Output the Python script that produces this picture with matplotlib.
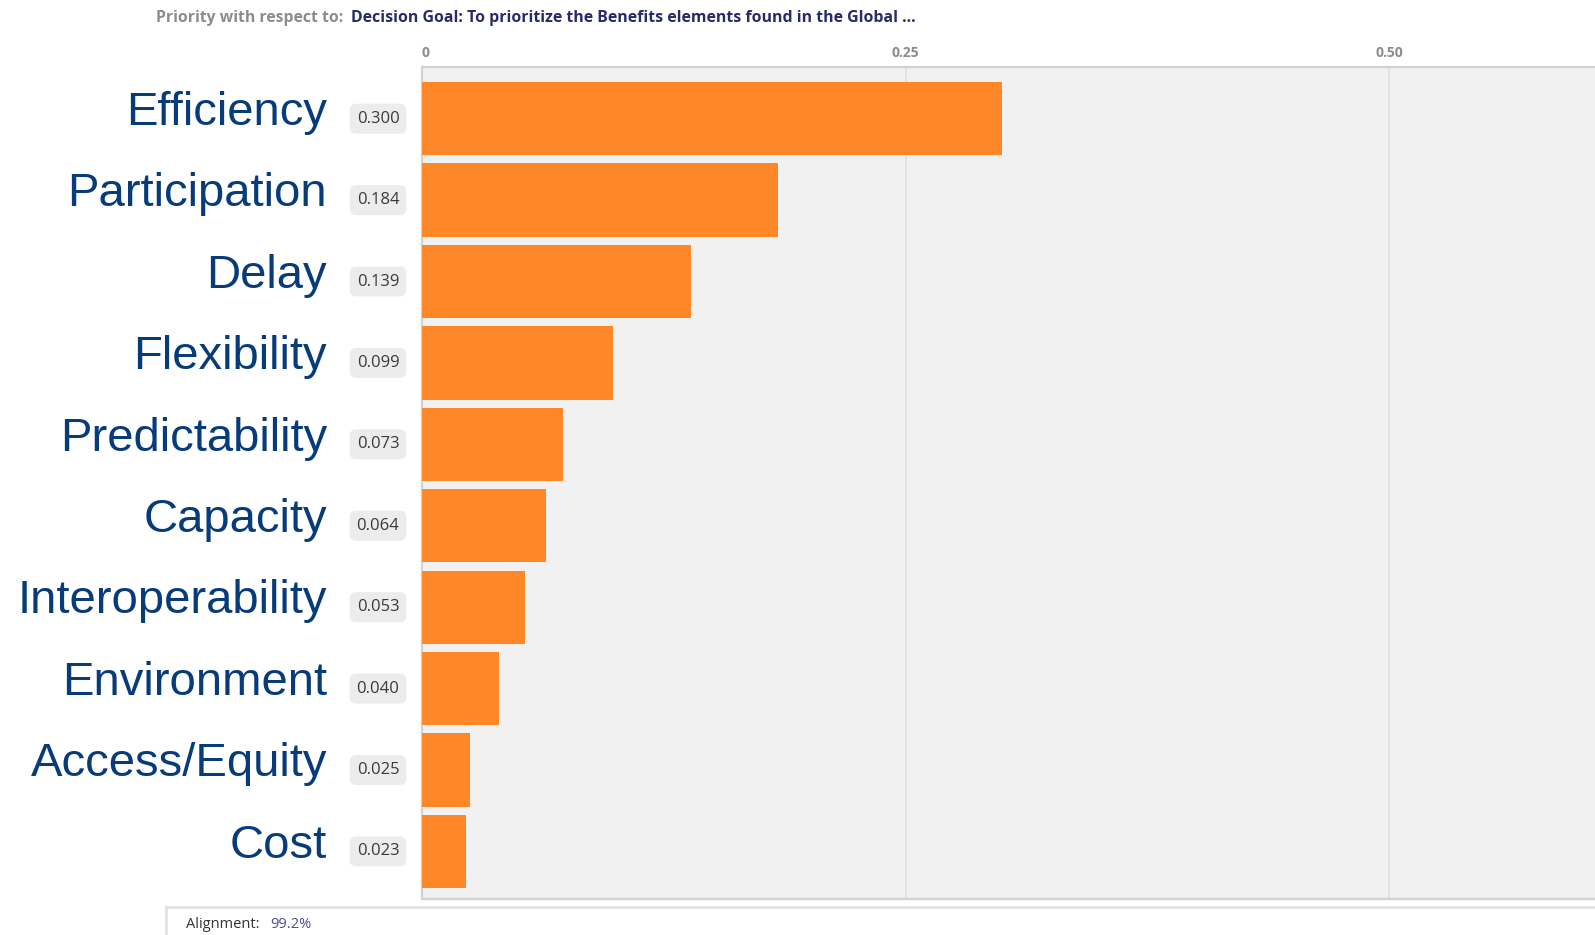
import matplotlib
matplotlib.use("Agg")
import matplotlib.pyplot as plt
from matplotlib.lines import Line2D

# ---- data -----------------------------------------------------------------
categories = ["Efficiency", "Participation", "Delay", "Flexibility", "Predictability",
              "Capacity", "Interoperability", "Environment", "Access/Equity", "Cost"]
priorities = [0.300, 0.184, 0.139, 0.099, 0.073, 0.064, 0.053, 0.040, 0.025, 0.023]
tick_values = [0, 0.25, 0.50]
tick_labels = ["0", "0.25", "0.50"]
header_label = "Priority with respect to:"
header_goal = "Decision Goal: To prioritize the Benefits elements found in the Global ..."
alignment_label = "Alignment:"
alignment_value = "99.2%"

ORANGE = "#ff8727"
BLUE = "#073b7a"
NAVY = "#2a2a6a"
GREY_TXT = "#8c8c8c"

W, H = 1595, 935
fig = plt.figure(figsize=(W / 100, H / 100), dpi=100)
fig.patch.set_facecolor("white")

# axes box in pixel terms: left 422, top 67, bottom 899, right = edge
ax = fig.add_axes([422 / W, 1 - 899 / H, 1 - 422 / W, (899 - 67) / H])
ax.set_facecolor("#f1f1f1")

ypos = list(range(len(categories)))
ax.barh(ypos, priorities, height=0.9, color=ORANGE, zorder=3)
ax.set_xlim(0, 0.6065)
ax.set_ylim(9.585, -0.635)

for x in tick_values[1:]:
    ax.axvline(x, color="#dedede", lw=1.1, zorder=1)

ax.spines["right"].set_visible(False)
for s in ["top", "left", "bottom"]:
    ax.spines[s].set_color("#d2d2d2")
    ax.spines[s].set_linewidth(1.6)

ax.set_yticks([])
ax.xaxis.tick_top()
ax.set_xticks(tick_values)
ax.set_xticklabels(tick_labels, fontsize=10, color=GREY_TXT, fontweight="bold",
                   family="Open Sans")
ax.tick_params(axis="x", length=0, pad=5)
ax.get_xticklabels()[0].set_ha("left")

ytr = ax.get_yaxis_transform()
for y, name, val in zip(ypos, categories, priorities):
    ax.text(-0.081, y - 0.07, name, transform=ytr, ha="right", va="center",
            fontsize=34, color=BLUE, family="Liberation Sans", clip_on=False)
    ax.text(-0.0375, y, f"{val:.3f}", transform=ytr, ha="center", va="center",
            fontsize=12, color="#3a3a3a", family="Open Sans", clip_on=False,
            bbox=dict(boxstyle="round,pad=0.42,rounding_size=0.4",
                      fc="#ececec", ec="none"))

# header line
fig.text(156 / W, 1 - 18 / H, header_label, ha="left", va="center",
         fontsize=11.3, color=GREY_TXT, fontweight="bold", family="Open Sans")
fig.text(351 / W, 1 - 18 / H, header_goal, ha="left", va="center",
         fontsize=11.4, color=NAVY, fontweight="bold", family="Open Sans")

# alignment footer box
fig.add_artist(Line2D([166 / W, 1], [1 - 907 / H] * 2, transform=fig.transFigure,
                      color="#e2e2e2", lw=2))
fig.add_artist(Line2D([166 / W] * 2, [1 - 907 / H, 0], transform=fig.transFigure,
                      color="#e2e2e2", lw=2))
fig.text(186 / W, 1 - 925 / H, alignment_label, ha="left", va="center",
         fontsize=10.5, color="#333333", family="Open Sans")
fig.text(270 / W, 1 - 925 / H, alignment_value, ha="left", va="center",
         fontsize=10.5, color="#4a4a9a", family="Open Sans")

fig.savefig("out.png", dpi=100)
